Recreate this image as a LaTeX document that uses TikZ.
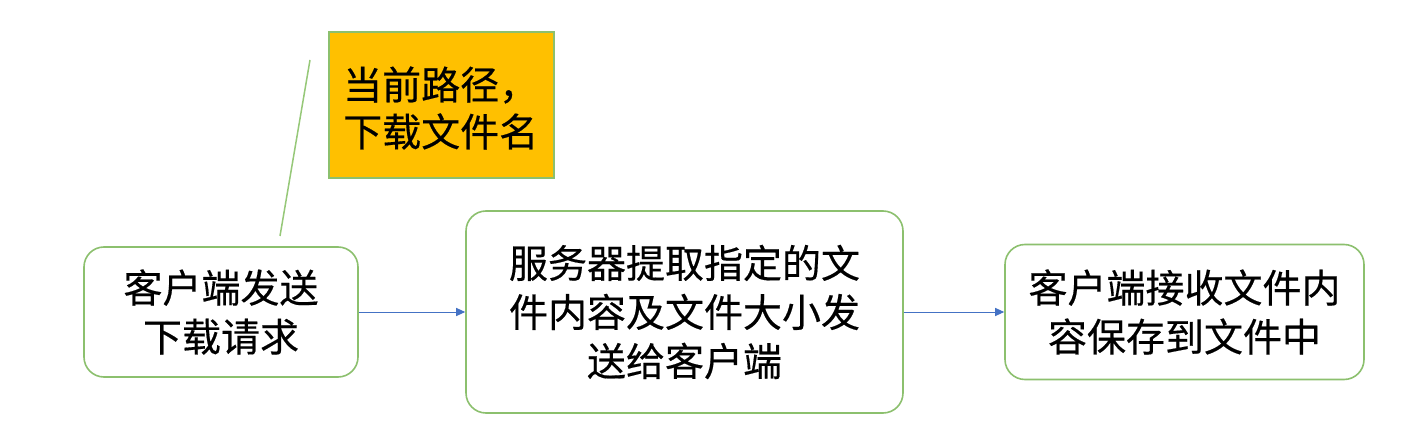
\documentclass[tikz,border=0pt]{standalone}
\usepackage{fontspec}
\newfontfamily\cjk[FakeBold=0.4]{Noto Sans CJK SC}
\usetikzlibrary{arrows.meta}
\definecolor{boxgreen}{RGB}{140,192,110}
\definecolor{linegreen}{RGB}{150,200,120}
\definecolor{arrowblue}{RGB}{68,114,196}
\definecolor{noteorange}{RGB}{255,192,0}
\tikzset{
  stepbox/.style={draw=boxgreen, line width=1.6pt, rounded corners=20pt, fill=white,
    align=center, inner sep=0pt, font=\cjk\fontsize{39}{49}\selectfont},
  notebox/.style={draw=boxgreen, line width=1.4pt, fill=noteorange, inner sep=0pt},
  notetext/.style={align=left, inner sep=0pt, font=\cjk\fontsize{39}{47}\selectfont},
  flow/.style={draw=arrowblue, line width=1pt, -{Triangle[length=9pt,width=8pt]}},
  leader/.style={draw=linegreen, line width=1.5pt}
}
\begin{document}
\begin{tikzpicture}[x=1pt,y=-1pt]
\path[use as bounding box, fill=white] (0,0) rectangle (1410,446);
\node[stepbox, minimum width=274pt, minimum height=130pt] (a) at (221,312) {客户端发送\\下载请求};
\node[stepbox, minimum width=437pt, minimum height=202pt] (b) at (684.5,312) {服务器提取指定的文\\件内容及文件大小发\\送给客户端};
\node[stepbox, minimum width=359pt, minimum height=135pt] (c) at (1184.5,312) {客户端接收文件内\\容保存到文件中};
\node[notebox, minimum width=225pt, minimum height=146pt] (n) at (441.5,105) {};
\node[notetext, anchor=west] (nt) at (343,108) {当前路径，\\下载文件名};
\coordinate (l1) at (280,236);
\coordinate (l2) at (310,60);
\draw[leader] (l1) -- (l2);
\draw[flow] (a.east) -- (b.west);
\draw[flow] (b.east) -- (c.west);
\end{tikzpicture}
\end{document}
